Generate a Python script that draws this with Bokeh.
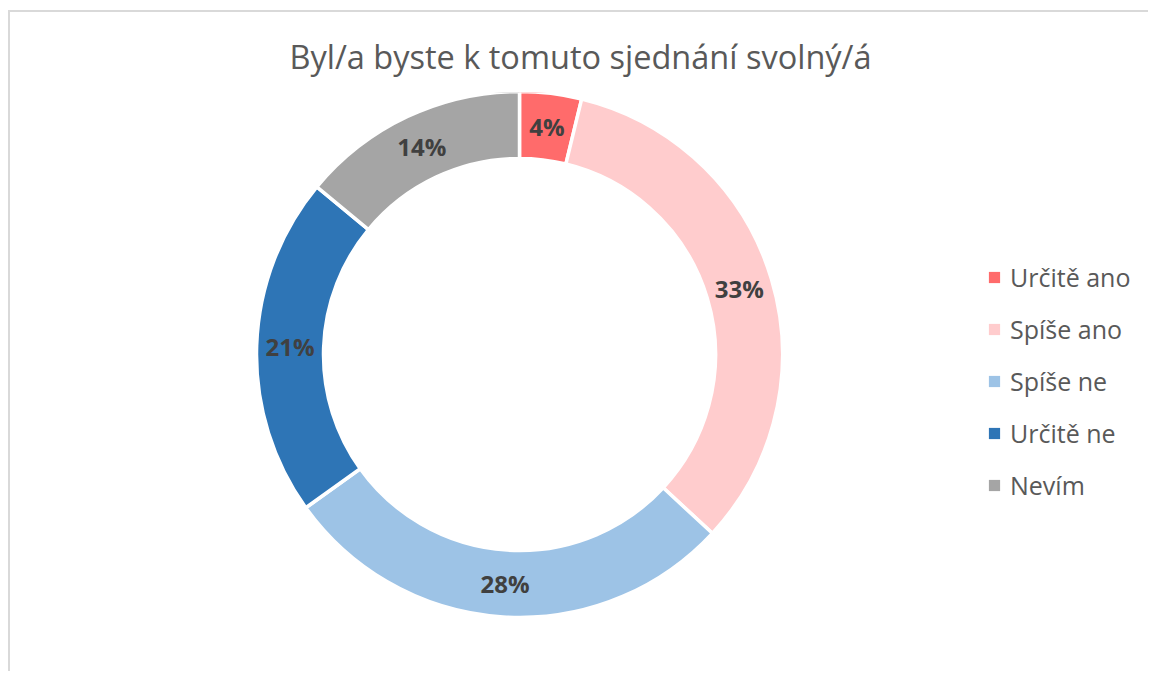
import numpy as np
from bokeh.plotting import figure
from bokeh.models import ColumnDataSource, Range1d, Legend, LegendItem
from bokeh.core.properties import value
from bokeh.embed import file_html
from bokeh.resources import INLINE

title_text = "Byl/a byste k tomuto sjednání svolný/á"
categories = ["Určitě ano", "Spíše ano", "Spíše ne", "Určitě ne", "Nevím"]
shares = [3.8, 33.1, 28.2, 20.9, 14.0]
colors = ["#FF6B6B", "#FFCCCD", "#9DC3E6", "#2E75B6", "#A5A5A5"]

W, H = 1140, 661
TOP = 80
FONT = "Open Sans"

p = figure(width=W, height=H, output_backend="svg", toolbar_location=None,
           x_range=Range1d(0, W), y_range=Range1d(0, H - TOP),
           min_border_left=0, min_border_right=0, min_border_bottom=0,
           min_border_top=TOP, title=title_text,
           x_axis_location=None, y_axis_location=None)
p.grid.visible = False
p.outline_line_color = None
p.background_fill_color = "white"
p.border_fill_color = "white"
p.styles = {"margin-left": "8px", "margin-top": "10px",
            "border-top": "2px solid #d9d9d9", "border-left": "2px solid #d9d9d9"}

p.title.align = "center"
p.title.text_font = FONT
p.title.text_font_style = "normal"
p.title.text_font_size = "32.5px"
p.title.text_color = "#595959"
p.title.standoff = 28

cx, cy = 509, 319
r_in, r_out = 196, 263

vals = np.array(shares, dtype=float)
frac = vals / vals.sum()
cum_end = np.cumsum(frac)
cum_start = cum_end - frac
start_ang = np.pi / 2 - cum_end * 2 * np.pi
end_ang = np.pi / 2 - cum_start * 2 * np.pi
mid = np.pi / 2 - (cum_start + cum_end) * np.pi
r_lab = (r_in + r_out) / 2

src = ColumnDataSource(dict(
    cat=categories, color=colors, start=start_ang, end=end_ang,
    lx=cx + r_lab * np.cos(mid), ly=cy + r_lab * np.sin(mid),
    lab=[f"{round(v)}%" for v in vals],
    nan=[np.nan] * len(categories),
))

p.annular_wedge(x=cx, y=cy, inner_radius=r_in, outer_radius=r_out,
                start_angle="start", end_angle="end", direction="anticlock",
                fill_color="color", line_color="white", line_width=3.5, source=src)

p.text(x="lx", y="ly", text="lab", source=src, text_align="center",
       text_baseline="middle", text_font=value(FONT), text_font_style="bold",
       text_font_size="24px", text_color="#404040")

# legend swatches (no drawn data)
sw = p.quad(left="nan", right="nan", top="nan", bottom="nan", fill_color="color",
            line_color=None, source=src)
items = [LegendItem(label=c, renderers=[sw], index=i) for i, c in enumerate(categories)]
legend = Legend(items=items, location=(977, 171), orientation="vertical",
                glyph_width=14, glyph_height=14, label_standoff=9, spacing=18,
                padding=0, margin=0, border_line_alpha=0, background_fill_alpha=0,
                label_text_font=FONT, label_text_font_size="25px",
                label_text_color="#595959", label_height=24)
p.add_layout(legend, "center")

open("out.html", "w").write(file_html(p, INLINE))
